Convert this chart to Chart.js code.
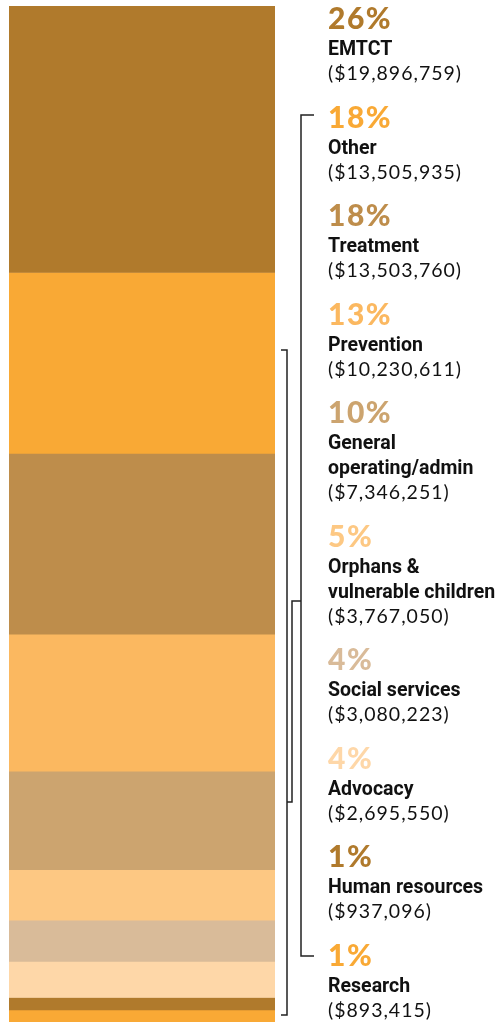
<!DOCTYPE html>
<html>
<head>
<meta charset="utf-8">
<script src="https://cdn.jsdelivr.net/npm/chart.js@4"></script>
<style>
  html, body { margin: 0; padding: 0; background: #fff; }
  canvas { display: block; }
</style>
</head>
<body>
<canvas id="budgetChart" width="499" height="1022"></canvas>
<script>
// ---- data ----
const categories = ['EMTCT', 'Other', 'Treatment', 'Prevention', 'General operating/admin',
  'Orphans & vulnerable children', 'Social services', 'Advocacy', 'Human resources', 'Research'];
const amounts = [19896759, 13505935, 13503760, 10230611, 7346251, 3767050, 3080223, 2695550, 937096, 893415];
const percentLabels = ['26%', '18%', '18%', '13%', '10%', '5%', '4%', '4%', '1%', '1%'];
const nameLines = [['EMTCT'], ['Other'], ['Treatment'], ['Prevention'], ['General', 'operating/admin'],
  ['Orphans &', 'vulnerable children'], ['Social services'], ['Advocacy'], ['Human resources'], ['Research']];
const colors = ['#B07A2C', '#F9A935', '#BE8D4B', '#FBB860', '#CCA46F',
  '#FDC883', '#D9BB99', '#FED7A8', '#B07A2C', '#F9A935'];

const total = amounts.reduce((a, b) => a + b, 0);

function money(v) {
  return '($' + v.toLocaleString('en-US') + ')';
}

// labels to the right of the bar + connector brackets
const sideLabels = {
  id: 'sideLabels',
  afterDraw(chart) {
    const ctx = chart.ctx;
    const x = 328;
    let base = 29;
    ctx.save();
    ctx.textBaseline = 'alphabetic';
    ctx.textAlign = 'left';
    categories.forEach((c, i) => {
      ctx.fillStyle = colors[i];
      ctx.font = '900 30px Lato';
      ctx.letterSpacing = '1.5px';
      ctx.fillText(percentLabels[i], x, base);

      ctx.fillStyle = '#111';
      ctx.font = 'bold 21px Roboto';
      ctx.letterSpacing = '0px';
      let y = base + 26;
      nameLines[i].forEach(line => {
        ctx.save();
        ctx.translate(x, y);
        ctx.scale(0.93, 1);
        ctx.fillText(line, 0, 0);
        ctx.restore();
        y += 25;
      });

      ctx.font = '19.5px Lato';
      ctx.letterSpacing = '1px';
      ctx.fillStyle = '#111';
      ctx.fillText(money(amounts[i]), x, y);
      ctx.letterSpacing = '0px';

      base = y + 47.5;
    });

    // brackets
    ctx.strokeStyle = '#222';
    ctx.lineWidth = 1.5;
    ctx.beginPath();
    ctx.moveTo(314, 115); ctx.lineTo(301, 115); ctx.lineTo(301, 956); ctx.lineTo(314, 956);
    ctx.moveTo(281, 350); ctx.lineTo(287, 350); ctx.lineTo(287, 1015); ctx.lineTo(281, 1015);
    ctx.moveTo(301, 601); ctx.lineTo(292, 601); ctx.lineTo(292, 802); ctx.lineTo(287, 802);
    ctx.stroke();
    ctx.restore();
  }
};

new Chart(document.getElementById('budgetChart').getContext('2d'), {
  type: 'bar',
  data: {
    labels: ['Budget'],
    datasets: categories.map((c, i) => ({
      label: c,
      data: [amounts[i]],
      backgroundColor: colors[i],
      borderWidth: 0,
      barPercentage: 1,
      categoryPercentage: 1
    }))
  },
  options: {
    responsive: false,
    animation: false,
    layout: { padding: { left: 9, right: 224, top: 6, bottom: 0 } },
    plugins: { legend: { display: false }, tooltip: { enabled: false } },
    scales: {
      x: { stacked: true, display: false },
      y: { stacked: true, display: false, reverse: true, min: 0, max: total }
    }
  },
  plugins: [sideLabels]
});
</script>
</body>
</html>
